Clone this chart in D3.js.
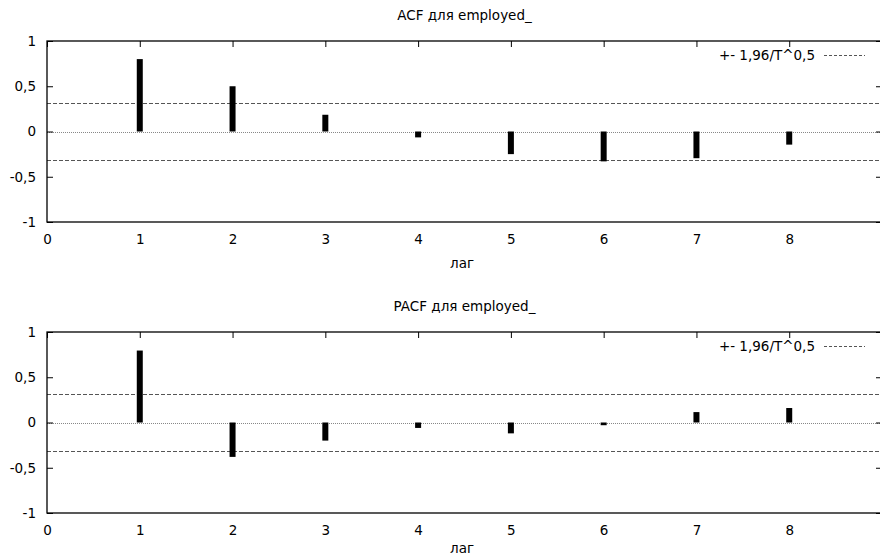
<!DOCTYPE html>
<html><head><meta charset="utf-8">
<script src="https://cdn.jsdelivr.net/npm/d3@7"></script>
<style>
body{margin:0;background:#fff;}
text{font-family:"DejaVu Sans",sans-serif;font-size:13.5px;fill:#000;}
</style></head>
<body>
<svg id="c" width="880" height="559"></svg>
<script>
const lags = [1,2,3,4,5,6,7,8];
const acfValues = [0.80, 0.50, 0.185, -0.065, -0.25, -0.33, -0.295, -0.145];
const pacfValues = [0.795, -0.38, -0.20, -0.06, -0.12, -0.03, 0.115, 0.16];
const bound = 0.31;
const xTicks = [0,1,2,3,4,5,6,7,8];
const yTicks = [-1,-0.5,0,0.5,1];
const yTickLabels = ["-1","-0,5","0","0,5","1"];
const titles = ["ACF для employed_","PACF для employed_"];
const xLabel = "лаг";
const legendLabel = "+- 1,96/T^0,5";

const svg = d3.select("#c");
const left = 47, right = 882;
const x = d3.scaleLinear().domain([0,9]).range([left,right]);
const FS = "13.5px";

function panel(top, bottom, values, title, labelOffset){
  const y = d3.scaleLinear().domain([-1,1]).range([bottom, top]);
  const g = svg.append("g");
  g.append("line").attr("x1",left).attr("x2",right).attr("y1",Math.round(y(0))+0.5).attr("y2",Math.round(y(0))+0.5)
    .attr("stroke","#888").attr("stroke-width",1).attr("stroke-dasharray","1,1");
  [bound,-bound].forEach(b=>{
    g.append("line").attr("x1",left).attr("x2",right).attr("y1",Math.round(y(b))+0.5).attr("y2",Math.round(y(b))+0.5)
      .attr("stroke","#555").attr("stroke-width",1).attr("stroke-dasharray","4,2");
  });
  g.selectAll("rect.bar").data(lags.map((l,i)=>({l,v:values[i]}))).enter().append("rect")
    .attr("x",d=>x(d.l)-3).attr("width",6)
    .attr("y",d=>Math.min(y(d.v),y(0))).attr("height",d=>Math.max(1.5,Math.abs(y(d.v)-y(0))))
    .attr("fill","#000");
  const fmt = v=>yTickLabels[yTicks.indexOf(v)];
  const la = g.append("g").attr("transform",`translate(${left},0)`)
    .call(d3.axisLeft(y).tickValues(yTicks).tickFormat(fmt).tickSizeInner(-6).tickSizeOuter(0).tickPadding(11));
  const ra = g.append("g").attr("transform",`translate(${right},0)`)
    .call(d3.axisRight(y).tickValues(yTicks).tickFormat("").tickSizeInner(-6).tickSizeOuter(0));
  const ta = g.append("g").attr("transform",`translate(0,${top})`)
    .call(d3.axisTop(x).tickValues(xTicks).tickFormat("").tickSizeInner(-6).tickSizeOuter(0));
  const ba = g.append("g").attr("transform",`translate(0,${bottom})`)
    .call(d3.axisBottom(x).tickValues(xTicks).tickFormat(d3.format("d")).tickSizeInner(0).tickSizeOuter(0).tickPadding(12));
  [la,ra,ta,ba].forEach(a=>{
    a.select(".domain").remove();
    a.selectAll("line").attr("stroke","#000");
    a.selectAll("text").style("font-family","DejaVu Sans").style("font-size",FS);
  });
  g.append("rect").attr("x",left).attr("y",top).attr("width",right-left).attr("height",bottom-top)
    .attr("fill","none").attr("stroke","#000").attr("stroke-width",1.3);
  g.append("text").attr("x",(left+right)/2).attr("y",top-26).attr("dy","0.35em").attr("text-anchor","middle").text(title);
  g.append("text").attr("x",462).attr("y",bottom+labelOffset).attr("dy","0.35em").attr("text-anchor","middle").text(xLabel);
  g.append("text").attr("x",815).attr("y",top+14).attr("dy","0.35em").attr("text-anchor","end").text(legendLabel);
  g.append("line").attr("x1",824).attr("x2",865).attr("y1",top+14.5).attr("y2",top+14.5)
    .attr("stroke","#555").attr("stroke-dasharray","3,2");
}
panel(41, 222, acfValues, titles[0], 41);
panel(332, 513, pacfValues, titles[1], 35);
</script>
</body></html>
